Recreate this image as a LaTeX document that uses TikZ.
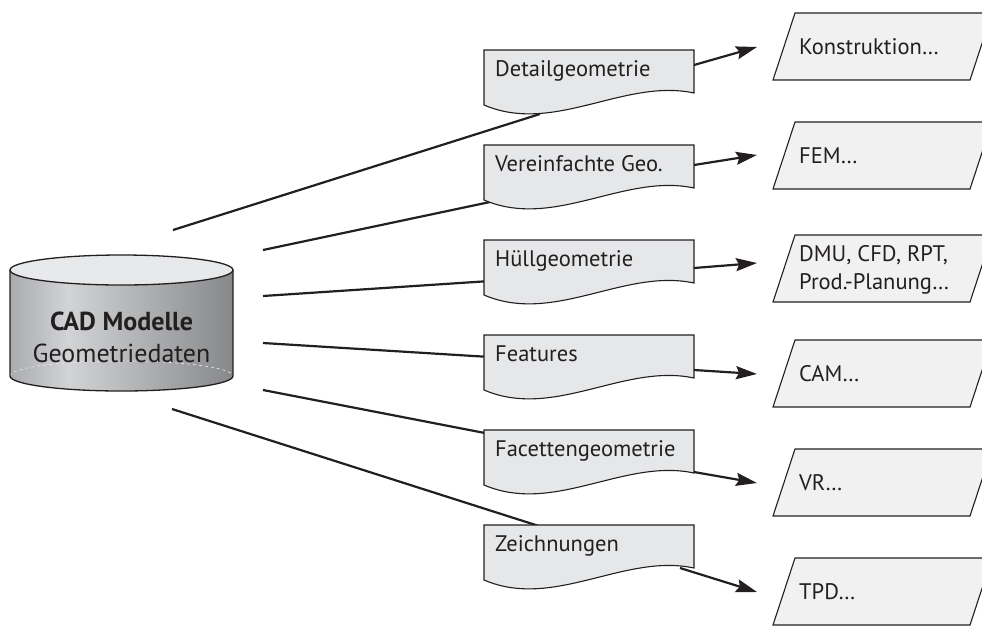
\documentclass[tikz,border=0pt]{standalone}
\usepackage{fontspec}
\setmainfont{PT Sans}
\usetikzlibrary{arrows.meta}
\definecolor{boxfill}{HTML}{E6E7E8}
\definecolor{parfill}{HTML}{F1F1F2}
\definecolor{topfill}{HTML}{E8E9EA}
\definecolor{edge}{HTML}{231F20}
\definecolor{ink}{HTML}{231F20}
\definecolor{cylA}{HTML}{A9ABAE}
\definecolor{cylB}{HTML}{D2D3D5}
\definecolor{cylC}{HTML}{86888A}
\pgfdeclarehorizontalshading{cylshade}{100bp}{color(0bp)=(cylA); color(25bp)=(cylA); color(38bp)=(cylB); color(75bp)=(cylC); color(100bp)=(cylC)}
\newcommand\docshape[3]{%
  \draw[docbox] (484,#2) -- (694,#2) -- (694,#2+43) .. controls (624,#2+28) and (554,#2+85) .. (484,#2+55) -- cycle;
  \node[lbl] (#1) at (495,#2+26) {#3};}
\newcommand\parashape[3]{%
  \draw[parbox] (773,#2+67) -- (795,#2) -- (992,#2) -- (970,#2+67) -- cycle;
  \node[lbl] (#1) at (799,#2+41) {#3};}
\begin{document}
\begin{tikzpicture}[x=1pt,y=-1pt,
  conn/.style={line width=2.2pt, draw=ink},
  arr/.style={conn, -{Stealth[length=21pt,width=13pt,inset=3pt]}},
  docbox/.style={draw=edge, line width=1.1pt, fill=boxfill},
  parbox/.style={draw=edge, line width=1.1pt, fill=parfill},
  lbl/.style={inner sep=0pt, text=ink, font=\fontsize{22.5}{26}\selectfont, anchor=base west},
]
\useasboundingbox (0,0) rectangle (982,625);
% cylinder
\shade[shading=cylshade] (10,270) -- (10,376) arc[start angle=180, end angle=0, x radius=111.5, y radius=15] -- (233,270) -- cycle;
\draw[white!85!gray, line width=0.6pt, dashed] (10,376) arc[start angle=180, end angle=360, x radius=111.5, y radius=15];
\draw[edge, line width=1.3pt] (10,270) -- (10,376) arc[start angle=180, end angle=0, x radius=111.5, y radius=15] -- (233,270);
\draw[edge, line width=1.3pt, fill=topfill] (121.5,270) ellipse[x radius=111.5, y radius=15];
\node[inner sep=0pt, text=ink, font=\fontsize{26}{32}\selectfont\bfseries, anchor=base] (cad) at (121.5,330) {CAD Modelle};
\node[inner sep=0pt, text=ink, font=\fontsize{26}{32}\selectfont, anchor=base] (geo) at (121.5,362) {Geometriedaten};
% connector ends
\coordinate (c1) at (173,230); \coordinate (e1) at (540,114);
\coordinate (c2) at (263,250); \coordinate (e2) at (490,202);
\coordinate (c3) at (263,296); \coordinate (e3) at (490,281);
\coordinate (c4) at (263,343); \coordinate (e4) at (490,357);
\coordinate (c5) at (263,390); \coordinate (e5) at (490,434);
\coordinate (c6) at (172,409); \coordinate (e6) at (542,527);
\foreach \i in {1,...,6} {\draw[conn] (c\i) -- (e\i);}
% document boxes
\docshape{b1}{50}{Detailgeometrie}
\docshape{b2}{145}{Vereinfachte Geo.}
\docshape{b3}{240}{Hüllgeometrie}
\docshape{b4}{335}{Features}
\docshape{b5}{430}{Facettengeometrie}
\docshape{b6}{525}{Zeichnungen}
% parallelograms
\parashape{p1}{13}{Konstruktion…}
\parashape{p2}{122}{FEM…}
\draw[parbox] (773,302) -- (795,235) -- (992,235) -- (970,302) -- cycle;
\node[lbl] (p3) at (799,261) {DMU, CFD, RPT,};
\node[lbl] (p3b) at (799,289) {Prod.-Planung…};
\parashape{p4}{340}{CAM…}
\parashape{p5}{449}{VR…}
\parashape{p6}{558}{TPD…}
% arrows
\coordinate (s1) at (694,65);  \coordinate (t1) at (757,47);
\coordinate (s2) at (694,165); \coordinate (t2) at (757,155);
\coordinate (s3) at (694,268); \coordinate (t3) at (757,263);
\coordinate (s4) at (694,370); \coordinate (t4) at (757,374);
\coordinate (s5) at (694,472); \coordinate (t5) at (757,483);
\coordinate (s6) at (680,568); \coordinate (t6) at (757,592);
\foreach \i in {1,...,6} {\draw[arr] (s\i) -- (t\i);}
\end{tikzpicture}
\end{document}
